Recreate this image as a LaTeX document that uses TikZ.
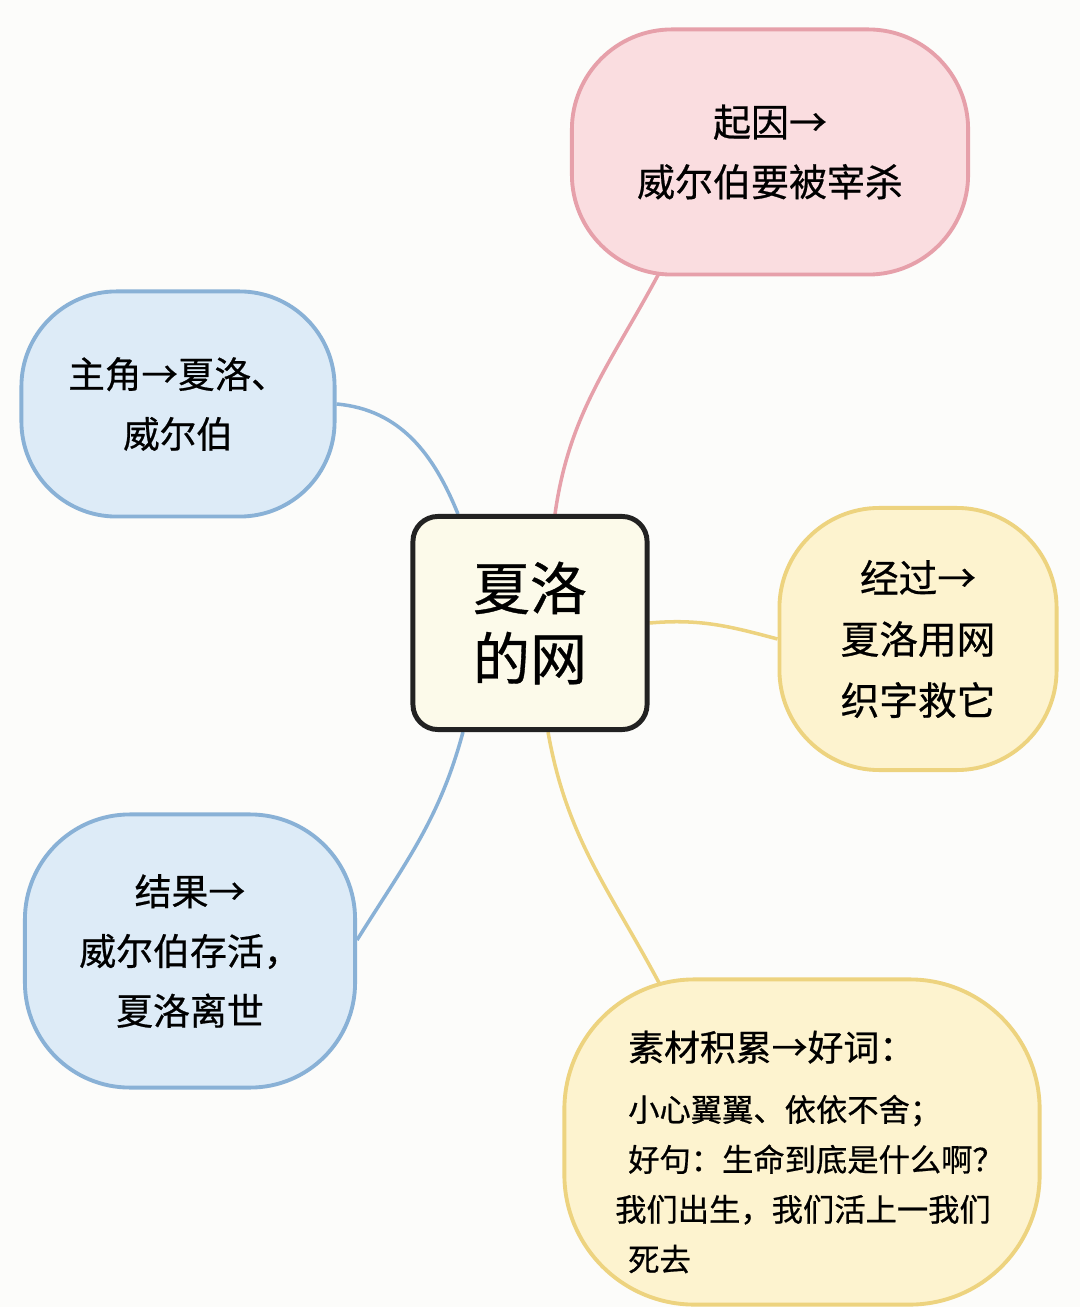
\documentclass[tikz,border=0pt]{standalone}
\usepackage{fontspec}
\setmainfont{Noto Sans CJK SC}[UprightFeatures={FakeBold=0.6}]
\usetikzlibrary{positioning}

\definecolor{bgcol}{HTML}{FCFCFA}
\definecolor{hubfill}{HTML}{FCFAEA}
\definecolor{hubline}{HTML}{222222}
\definecolor{pinkfill}{HTML}{FADDE0}
\definecolor{pinkline}{HTML}{E6A0AA}
\definecolor{bluefill}{HTML}{DDEBF7}
\definecolor{blueline}{HTML}{89B1D6}
\definecolor{yelfill}{HTML}{FDF3CF}
\definecolor{yelline}{HTML}{EDD37F}

\pgfdeclarelayer{bg}
\pgfdeclarelayer{links}
\pgfsetlayers{bg,links,main}

\begin{document}
\begin{tikzpicture}[x=0.01cm,y=-0.01cm,
    blob/.style={line width=1.1pt, rounded corners=#1, align=center, inner sep=0pt},
    pinkbox/.style={blob=1cm, draw=pinkline, fill=pinkfill},
    bluebox/.style={blob=0.95cm, draw=blueline, fill=bluefill},
    yelbox/.style={blob=1cm, draw=yelline, fill=yelfill},
    link/.style={line width=1pt}]

    \begin{pgfonlayer}{bg}
    \fill[bgcol] (0,0) rectangle (1080,1307);
    \end{pgfonlayer}
    \useasboundingbox (0,0) rectangle (1080,1307);

    % centre
    \node[draw=hubline, fill=hubfill, line width=1.4pt, rounded corners=0.25cm,
        minimum width=2.34cm, minimum height=2.13cm, align=center,
        font=\fontsize{16.2pt}{20pt}\selectfont] (hub) at (530,623) {夏洛\\的网};

    % branches
    \node[pinkbox, minimum width=3.96cm, minimum height=2.45cm,
        font=\fontsize{10.8pt}{17pt}\selectfont] (cause) at (770,152) {起因→\\威尔伯要被宰杀};
    \node[bluebox, minimum width=3.13cm, minimum height=2.25cm,
        font=\fontsize{10.4pt}{17pt}\selectfont] (roles) at (178,404) {主角→夏洛、\\威尔伯};
    \node[yelbox, minimum width=2.77cm, minimum height=2.62cm,
        font=\fontsize{11pt}{17.4pt}\selectfont] (course) at (918,639) {经过→\\夏洛用网\\织字救它};
    \node[bluebox, blob=1.05cm, minimum width=3.30cm, minimum height=2.73cm,
        font=\fontsize{10.5pt}{17pt}\selectfont] (result) at (190,951) {结果→\\威尔伯存活，\\夏洛离世};
    \node[yelbox, blob=1.3cm, minimum width=4.75cm, minimum height=3.25cm] (notesbox) at (802,1142) {};
    \node[align=left, inner sep=0pt, font=\fontsize{8.9pt}{14.2pt}\selectfont] (notes) at (816,1152)
        {{\fontsize{10.2pt}{14.2pt}\selectfont 素材积累→好词：}\\[3pt]
         小心翼翼、依依不舍；\\
         好句：生命到底是什么啊？\\
         \hspace*{-0.13cm}我们出生，我们活上一我们\\
         死去};

    % connectors
    \begin{pgfonlayer}{links}
    \draw[link, pinkline] ([xshift=0.25cm]hub.north) to[out=82, in=-118] ([xshift=-1.1cm, yshift=0.05cm]cause.south);
    \draw[link, blueline] ([xshift=-0.72cm]hub.north) to[out=112, in=-5] (roles.east);
    \draw[link, yelline] (hub.east) to[out=5, in=165] (course.west);
    \draw[link, blueline] ([xshift=-0.67cm]hub.south) to[out=-105, in=58] ([yshift=0.11cm]result.east);
    \draw[link, yelline] ([xshift=0.18cm]hub.south) to[out=-80, in=118] ([xshift=-1.42cm, yshift=-0.07cm]notesbox.north);
    \end{pgfonlayer}
\end{tikzpicture}
\end{document}
